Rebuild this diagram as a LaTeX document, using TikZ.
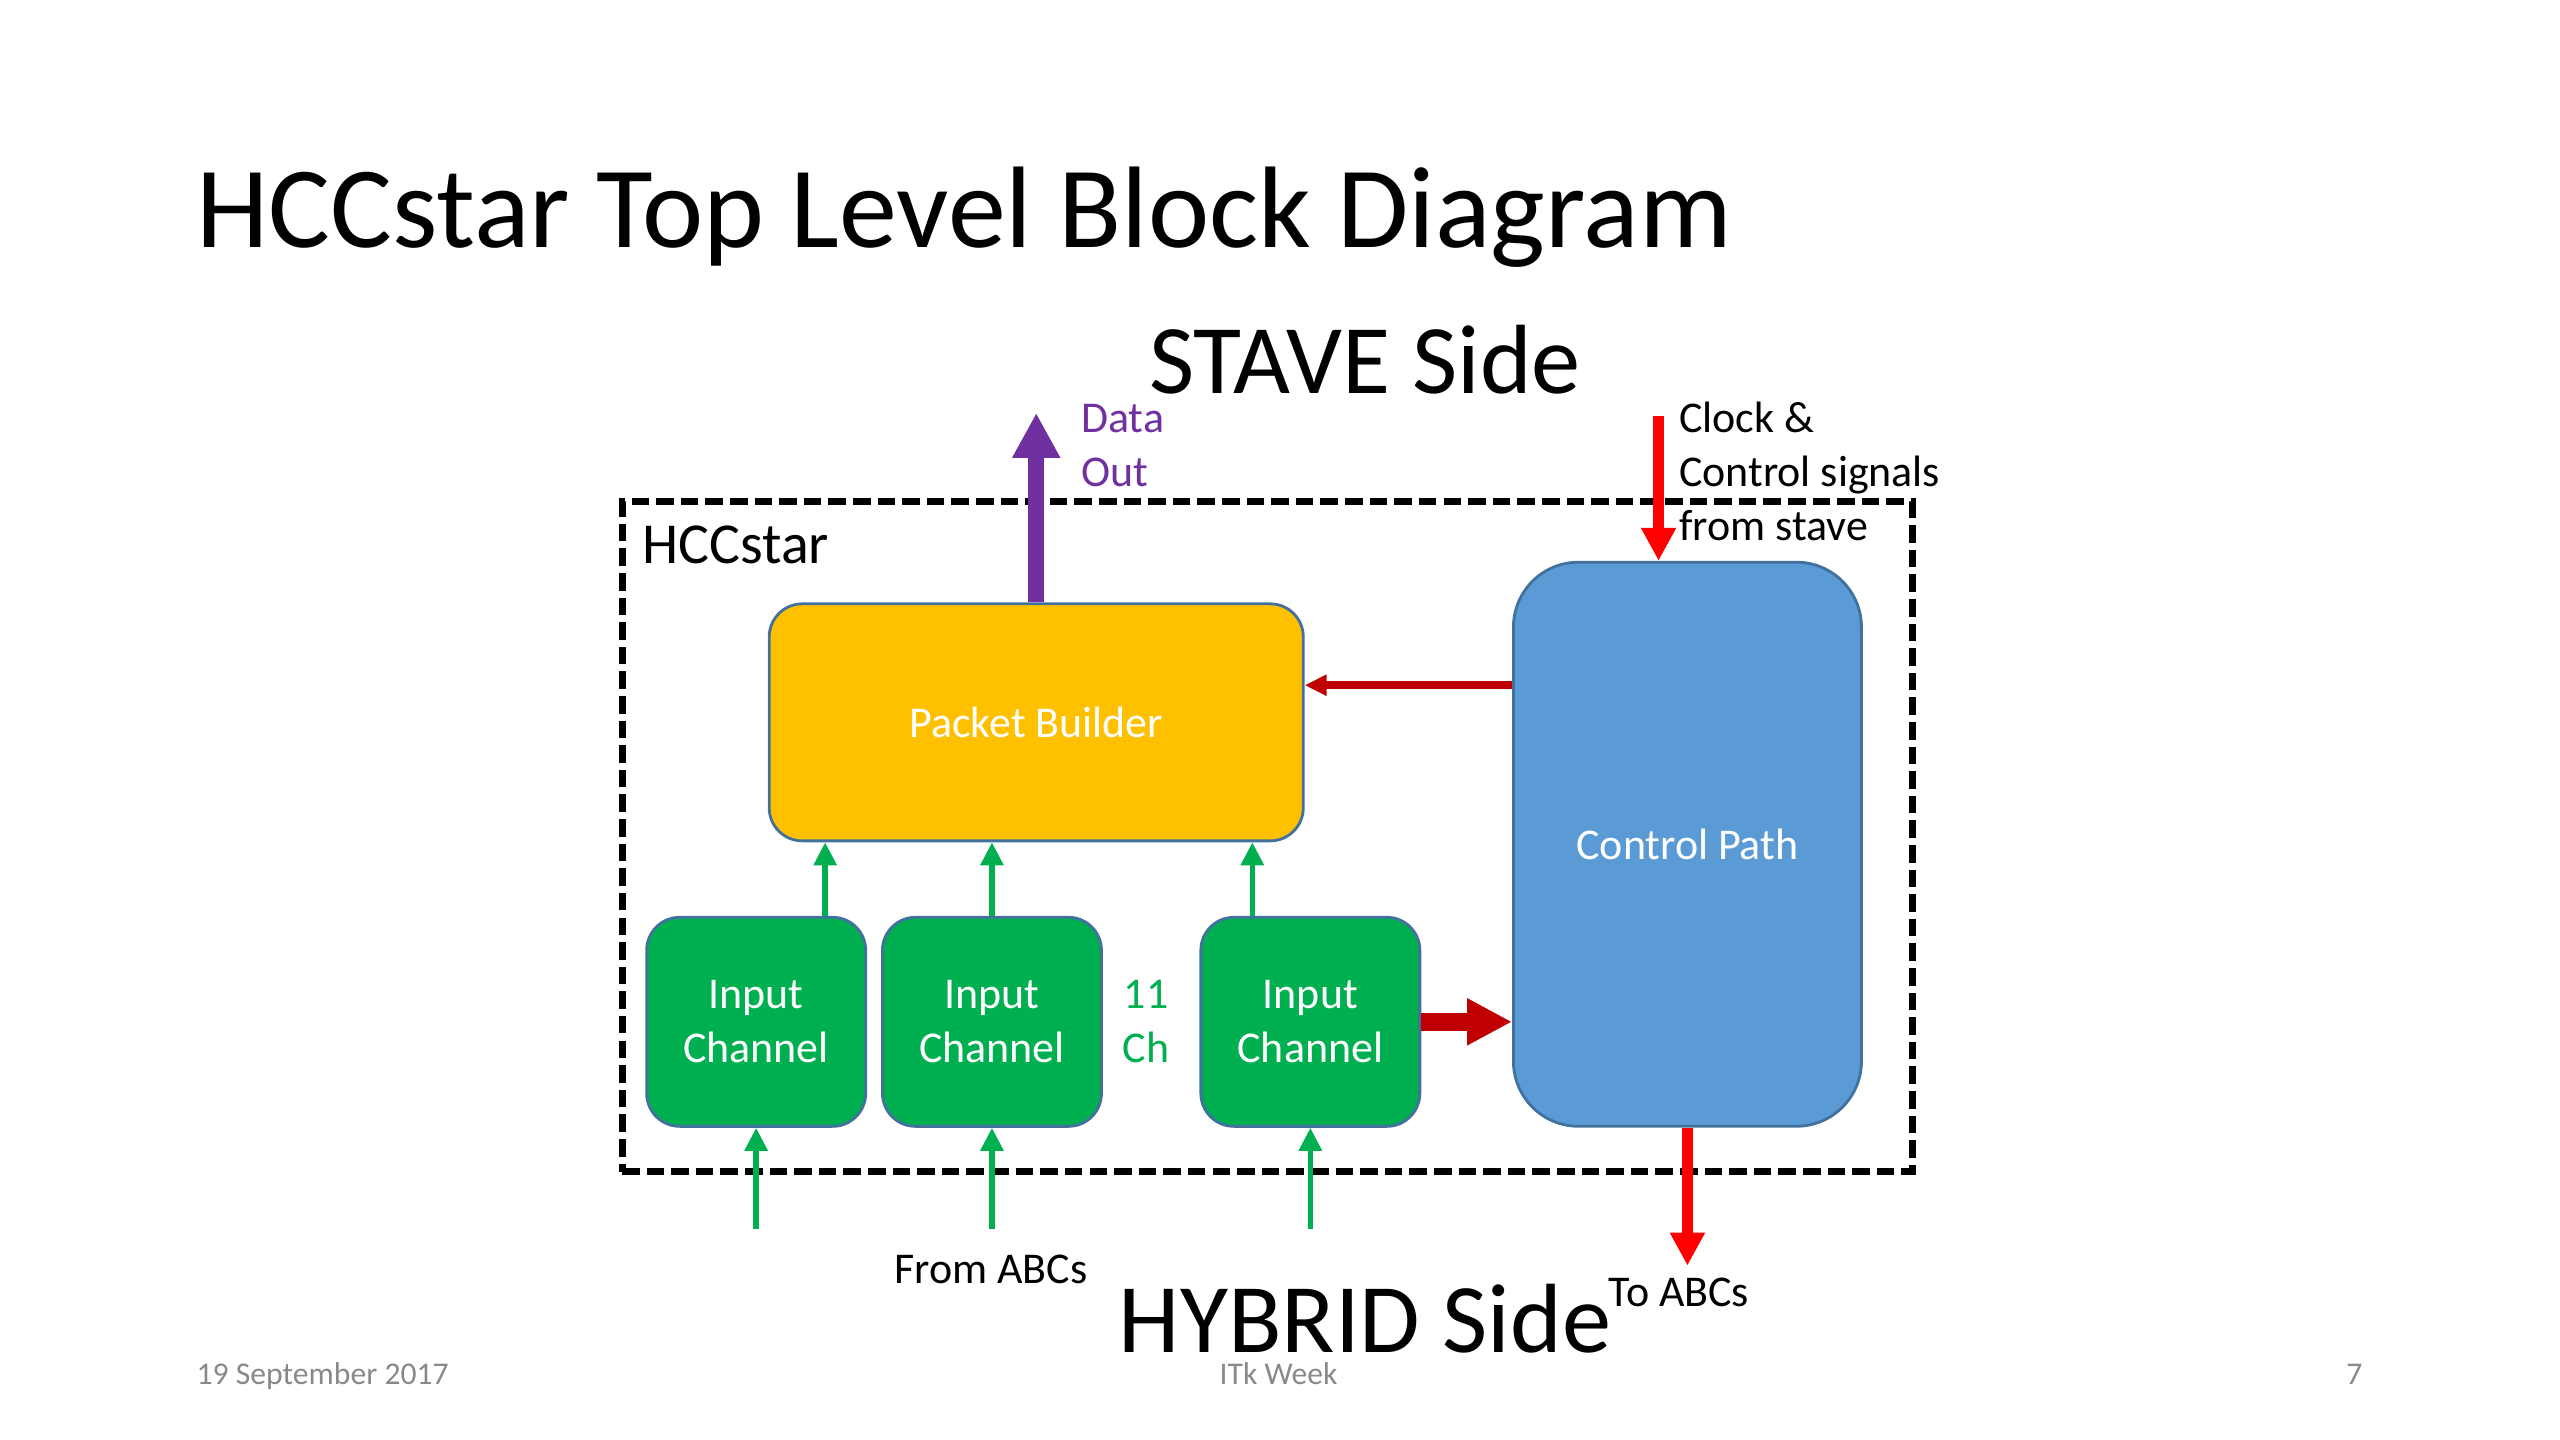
\documentclass[tikz,border=0pt]{standalone}
\usepackage{fontspec}
\setmainfont{Carlito}
\usetikzlibrary{arrows.meta}
\definecolor{pbfill}{HTML}{FFC000}
\definecolor{cpfill}{HTML}{5B9BD5}
\definecolor{icfill}{HTML}{00B050}
\definecolor{edgeblue}{HTML}{41719C}
\definecolor{cmdred}{HTML}{C00000}
\definecolor{sigred}{HTML}{FF0000}
\definecolor{dataviolet}{HTML}{7030A0}
\definecolor{footgrey}{HTML}{898989}
\begin{document}
\begin{tikzpicture}[x=0.00995cm,y=-0.00995cm,
  body/.style={font=\fontsize{12.5}{15.4}\selectfont},
  block/.style={draw=edgeblue,line width=0.8pt,text=white,body,align=center,inner sep=0pt},
  hccbox/.style={draw,line width=2pt,dash pattern=on 5pt off 2pt,inner sep=0pt},
  greenarrow/.style={draw=icfill,line width=1.6pt,-{Triangle[width=0.22cm,length=0.23cm]}},
  dataarrow/.style={draw=dataviolet,line width=4.5pt,-{Triangle[width=0.45cm,length=0.45cm]}},
  sigarrow/.style={draw=sigred,line width=3.2pt,-{Triangle[width=0.33cm,length=0.33cm]}},
  cmdarrow/.style={draw=cmdred,line width=2.3pt,-{Triangle[width=0.2cm,length=0.22cm]}},
  bigarrow/.style={draw=cmdred,line width=5pt,-{Triangle[width=0.44cm,length=0.45cm]}}]
\useasboundingbox (0,0) rectangle (2573,1447);
\node[anchor=base west,inner sep=0pt,font=\fontsize{33}{40}\selectfont] (title) at (197,249) {HCCstar Top Level Block Diagram};
\node[anchor=base,inner sep=0pt,font=\fontsize{28}{34}\selectfont] (stave) at (1372,395) {STAVE Side};
\node[hccbox,minimum width=12.9cm,minimum height=6.7cm] (hcc) at (1273.5,841) {};
\node[anchor=base west,inner sep=0pt,font=\fontsize{16.5}{20}\selectfont] (hcclabel) at (645,566) {HCCstar};
\node[block,fill=pbfill,rounded corners=0.33cm,minimum width=5.34cm,minimum height=2.37cm] (pb) at (1041.5,726) {Packet Builder};
\node[block,fill=cpfill,rounded corners=0.65cm,minimum width=3.48cm,minimum height=5.64cm] (cp) at (1696,848.5) {Control Path};
\foreach \n/\x in {1/760,2/997,3/1317}
  \node[block,fill=icfill,rounded corners=0.33cm,minimum width=2.19cm,minimum height=2.09cm] (ic\n) at (\x,1027) {Input\\Channel};
\node[body,text=icfill,align=center,inner sep=0pt] (nch) at (1152,1027) {11\\Ch};
\foreach \n/\dx in {1/0.69,2/0,3/-0.58}
  \draw[greenarrow] ([xshift=\dx cm]ic\n.north) -- ([xshift=\dx cm]ic\n.north |- pb.south);
\foreach \n in {1,2,3}
  \draw[greenarrow] ([yshift=-1.01cm]ic\n.south) -- (ic\n.south);
\coordinate (dout) at (1041.5,415);
\draw[dataarrow] (pb.north) -- (dout);
\node[body,anchor=base west,inner sep=0pt,text=dataviolet,align=left] (doutlabel) at (1086,489) {Data\\Out};
\coordinate (clk) at (1667,418);
\draw[sigarrow] (clk) -- (clk |- cp.north);
\node[body,anchor=base west,inner sep=0pt,align=left] (clklabel) at (1687,543) {Clock \&\\Control signals\\from stave};
\draw[cmdarrow] ([yshift=1.59cm]cp.west) -- ([yshift=1.59cm]cp.west -| pb.east);
\draw[bigarrow] (ic3.east) -- (ic3.east -| cp.west);
\coordinate (toabc) at (1696,1272);
\draw[sigarrow] (cp.south) -- (toabc);
\node[body,anchor=base,inner sep=0pt] (fromlabel) at (996,1290) {From ABCs};
\node[anchor=base,inner sep=0pt,font=\fontsize{28}{34}\selectfont] (hybrid) at (1372,1359) {HYBRID Side};
\node[body,anchor=base west,inner sep=0pt] (tolabel) at (1616,1313) {To ABCs};
\node[anchor=base west,inner sep=0pt,text=footgrey,font=\fontsize{9}{11}\selectfont] (date) at (197,1392) {19 September 2017};
\node[anchor=base,inner sep=0pt,text=footgrey,font=\fontsize{9}{11}\selectfont] (event) at (1285,1392) {ITk Week};
\node[anchor=base east,inner sep=0pt,text=footgrey,font=\fontsize{9}{11}\selectfont] (page) at (2375,1392) {7};
\end{tikzpicture}
\end{document}
